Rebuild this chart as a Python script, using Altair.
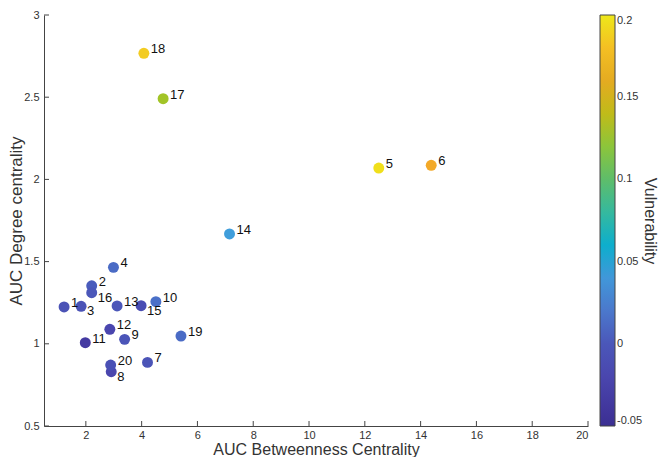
import altair as alt
import pandas as pd

ids = [str(i) for i in range(1, 21)]
auc_betweenness = [1.22, 2.21, 1.83, 2.99, 12.5, 14.38, 4.21, 2.91, 3.39, 4.51,
                   1.98, 2.86, 3.12, 7.15, 3.98, 2.21, 4.77, 4.08, 5.41, 2.89]
auc_degree = [1.224, 1.353, 1.228, 1.465, 2.069, 2.086, 0.887, 0.830, 1.027, 1.256,
              1.007, 1.088, 1.230, 1.668, 1.232, 1.311, 2.491, 2.767, 1.047, 0.871]
vulnerability = [-0.005, 0.003, -0.005, 0.012, 0.195, 0.172, -0.004, -0.02, -0.002, 0.015,
                 -0.035, -0.02, 0.0, 0.045, -0.012, 0.0, 0.128, 0.185, 0.012, -0.008]
labels_below = ["3", "15", "8", "16"]

x_ticks = [2, 4, 6, 8, 10, 12, 14, 16, 18, 20]
y_ticks = [0.5, 1, 1.5, 2, 2.5, 3]
cbar_ticks = [-0.05, 0, 0.05, 0.1, 0.15, 0.2]

color_stops = [-0.05, -0.025, 0.0, 0.025, 0.05, 0.075, 0.1, 0.125, 0.15, 0.17, 0.185, 0.2]
color_range = ["#3b2f92", "#4a41ab", "#4b57b9", "#4d80d0", "#40a5dd", "#37b7a8",
               "#5ebd6a", "#9ac62c", "#d6b21c", "#f2a42a", "#f3cc22", "#eee81a"]

df = pd.DataFrame({"id": ids, "x": auc_betweenness, "y": auc_degree, "v": vulnerability})
df["below"] = df["id"].isin(labels_below)

W, H = 544, 411
FONT = "Liberation Sans"

xscale = alt.Scale(domain=[0.5, 20], nice=False, zero=False)
yscale = alt.Scale(domain=[0.5, 3], nice=False, zero=False)

xenc = alt.X("x:Q", scale=xscale, title="AUC Betweenness Centrality",
             axis=alt.Axis(values=x_ticks, ticks=False, labelPadding=3,
                           labelExpr="toString(datum.value)",
                           titleFontSize=16,
                           titleBaseline="alphabetic", titleY=28.5))
yenc = alt.Y("y:Q", scale=yscale, title="AUC Degree centrality",
             axis=alt.Axis(values=y_ticks, ticks=False, labelPadding=5,
                           labelExpr="toString(datum.value)",
                           titleBaseline="alphabetic", titleX=-23, titleY=H / 2))

base = alt.Chart(df)

points = base.mark_circle(size=120, opacity=1).encode(
    x=xenc, y=yenc,
    color=alt.Color("v:Q",
                    scale=alt.Scale(domain=color_stops, range=color_range),
                    legend=alt.Legend(
                        orient="none", legendX=556, legendY=0, direction="vertical",
                        gradientLength=H, gradientThickness=15,
                        gradientStrokeColor="#444", gradientStrokeWidth=1,
                        values=cbar_ticks, labelExpr="toString(datum.value)",
                        labelFont=FONT, labelFontSize=11, labelColor="#333",
                        labelOverlap=False,
                        title="Vulnerability", titleOrient="right",
                        titleFont=FONT, titleFontSize=16, titleFontWeight="normal",
                        titleColor="#333", titleAnchor="middle", titlePadding=0)),
)

text_up = base.transform_filter("!datum.below").mark_text(
    align="left", baseline="middle", dx=7, dy=-4, fontSize=13, font=FONT, color="#111"
).encode(x="x:Q", y="y:Q", text="id:N")

text_down = base.transform_filter("datum.below").mark_text(
    align="left", baseline="middle", dx=6, dy=5, fontSize=13, font=FONT, color="#111"
).encode(x="x:Q", y="y:Q", text="id:N")

xt = alt.Chart(pd.DataFrame({"x": x_ticks})).mark_rule(color="#444", strokeWidth=1).encode(
    x="x:Q", y=alt.value(H), y2=alt.value(H - 5))
yt = alt.Chart(pd.DataFrame({"y": y_ticks})).mark_rule(color="#444", strokeWidth=1).encode(
    y="y:Q", x=alt.value(0), x2=alt.value(5))

chart = alt.layer(points, text_up, text_down, xt, yt).properties(
    width=W, height=H,
    autosize=alt.AutoSizeParams(type="none"),
    padding={"left": 36, "top": 7, "right": 71, "bottom": 31},
).configure_view(stroke=None).configure_axis(
    grid=False, domainColor="#444", labelColor="#333", labelFont=FONT, labelFontSize=11,
    titleColor="#333", titleFont=FONT, titleFontSize=17, titleFontWeight="normal",
)

chart.save("out.html", embed_options={"renderer": "svg", "actions": False})
